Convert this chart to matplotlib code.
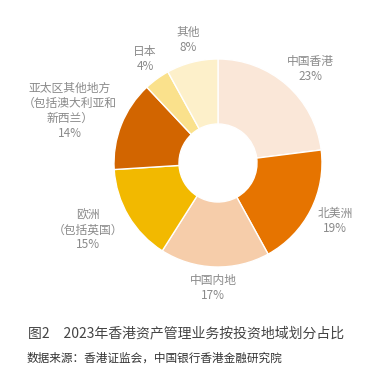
import matplotlib
matplotlib.use("Agg")
import matplotlib.pyplot as plt

plt.rcParams['font.family'] = ['Noto Sans CJK SC', 'DejaVu Sans']

categories = ['中国香港', '北美洲', '中国内地', '欧洲\n（包括英国）', '亚太区其他地方\n（包括澳大利亚和\n新西兰）', '日本', '其他']
values = [23, 19, 17, 15, 14, 4, 8]
colors = ['#FAE7D8', '#E67400', '#F6CDAA', '#F2B900', '#D26500', '#FAE18C', '#FDF0CA']
# label anchor positions in pixels (x, y from top)
label_pos = [(310, 69), (335, 221), (213, 288), (88, 230), (70, 111), (145, 59), (188, 40)]

W, H = 392, 378
fig = plt.figure(figsize=(W / 100, H / 100), dpi=100)
ax = fig.add_axes([0, 0, 1, 1])

cx, cy, R = 218, H - 163, 104
ax.pie(values, colors=colors, startangle=90, counterclock=False,
       center=(cx, cy), radius=R, frame=True,
       wedgeprops=dict(width=R * 0.625, edgecolor='white', linewidth=1.0))
ax.set_xlim(0, W)
ax.set_ylim(0, H)
ax.set_aspect('equal')
ax.axis('off')

for cat, v, (px, py) in zip(categories, values, label_pos):
    ax.text(px, H - py, f"{cat}\n{v}%", ha='center', va='center',
            fontsize=8.5, color='#8a8a8a', linespacing=1.2)

fig.text(28 / W, 1 - 333 / H, '图2　2023年香港资产管理业务按投资地域划分占比',
         ha='left', va='center', fontsize=10, color='#444444')
fig.text(27 / W, 1 - 358 / H, '数据来源：香港证监会，中国银行香港金融研究院',
         ha='left', va='center', fontsize=8.4, color='#333333', fontweight='medium')

fig.savefig('out.png', dpi=100, facecolor='white')
